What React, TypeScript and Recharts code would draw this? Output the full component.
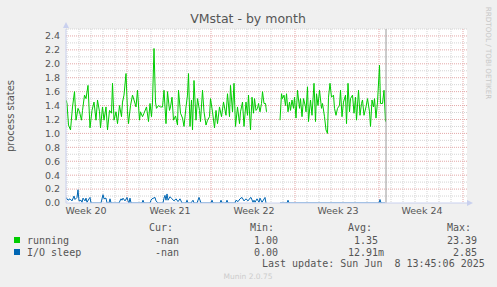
import { LineChart, Line, XAxis, YAxis, CartesianGrid, ReferenceLine } from 'recharts';

// hours since the left edge of the graph (2 h per pixel), value
const runningBeforeGap: [number, number][] = [
  [0, 1.48], [2, 1.43], [5, 1.12], [9, 1.05], [13, 1.38], [17, 1.6], [20, 1.19], [24, 1.36],
  [27, 1.31], [31, 1.19], [33, 1.33], [37, 1.55], [40, 1.5], [44, 1.69], [48, 1.08], [52, 1.33],
  [56, 1.45], [60, 1.19], [63, 1.48], [67, 1.31], [69, 1.08], [73, 1.38], [76, 1.19], [80, 1.38],
  [83, 1.05], [87, 1.33], [91, 1.29], [93, 1.72], [96, 1.19], [100, 1.31], [103, 1.14], [107, 1.4],
  [111, 1.24], [113, 1.45], [116, 1.55], [120, 1.86], [123, 1.31], [125, 1.14], [129, 1.4], [133, 1.55],
  [136, 1.48], [140, 1.38], [143, 1.62], [147, 1.19], [149, 1.31], [153, 1.24], [156, 1.29], [161, 1.38],
  [165, 1.17], [168, 1.43], [171, 1.24], [173, 1.45], [176, 2.22], [179, 1.45], [181, 1.36], [185, 1.4],
  [189, 1.38], [193, 1.38], [196, 1.62], [200, 1.14], [203, 1.6], [207, 1.33], [209, 1.38], [212, 1.52],
  [215, 1.19], [219, 1.25], [223, 1.12], [225, 1.62], [229, 1.29], [233, 1.22], [236, 1.1], [240, 1.38],
  [243, 1.55], [245, 1.86], [248, 1.1], [251, 1.48], [253, 1.05], [256, 1.76], [260, 1.19], [263, 1.5],
  [267, 1.33], [269, 1.17], [273, 1.62], [276, 1.31], [280, 1.12], [283, 1.19], [287, 1.24], [289, 1.5],
  [293, 1.31], [297, 1.08], [300, 1.33], [303, 1.14], [307, 1.38], [311, 1.24], [315, 1.45], [320, 1.26],
  [323, 1.57], [327, 1.24], [329, 1.69], [333, 1.31], [336, 1.72], [339, 1.1], [343, 1.38], [347, 1.14],
  [349, 1.31], [353, 1.45], [356, 1.1], [360, 1.45], [363, 1.26], [365, 1.55], [369, 1.05], [372, 1.52],
  [375, 1.29], [377, 1.5], [380, 1.33], [383, 1.36], [385, 1.43], [388, 1.31], [391, 1.43], [393, 1.6],
  [396, 1.43], [399, 1.43], [401, 1.31],
];

const runningAfterGap: [number, number][] = [
  [428, 1.19], [431, 1.57], [433, 1.5], [436, 1.55], [439, 1.4], [441, 1.57], [444, 1.31], [447, 1.45],
  [449, 1.33], [452, 1.48], [455, 1.36], [457, 1.52], [460, 1.22], [463, 1.62], [467, 1.36], [469, 1.5],
  [472, 1.24], [475, 1.5], [479, 1.38], [480, 1.31], [483, 1.67], [485, 1.17], [489, 1.48], [492, 1.26],
  [496, 1.72], [499, 1.17], [501, 1.57], [504, 1.4], [507, 1.62], [511, 1.36], [513, 1.43], [517, 1.24],
  [520, 1.05], [523, 1.0], [525, 1.52], [528, 1.72], [531, 1.52], [535, 1.55], [537, 1.36], [540, 1.26],
  [543, 1.36], [547, 1.4], [549, 1.62], [552, 1.24], [555, 1.45], [559, 1.55], [561, 1.14], [564, 1.72],
  [567, 1.31], [569, 1.5], [573, 1.55], [576, 1.29], [579, 1.52], [581, 1.19], [585, 1.62], [588, 1.26],
  [591, 1.43], [593, 1.48], [596, 1.26], [600, 1.38], [603, 1.5], [607, 1.31], [609, 1.1], [612, 1.48],
  [615, 1.38], [617, 1.5], [620, 1.22], [623, 1.45], [627, 1.98], [629, 1.43], [633, 1.43], [636, 1.62],
  [639, 1.17],
];

const ioSleepBeforeGap: [number, number][] = [
  [0, 0.08], [4, 0.04], [8, 0.06], [12, 0.03], [16, 0.1], [18, 0.05], [22, 0.08], [24, 0.19],
  [26, 0.03], [30, 0.04], [32, 0.01], [34, 0.07], [38, 0.03], [40, 0.07], [42, 0.01], [46, 0.06],
  [48, 0.08], [50, 0], [70, 0], [74, 0.12], [76, 0.06], [80, 0.07], [82, 0], [86, 0], [88, 0.06],
  [90, 0], [106, 0], [110, 0.06], [112, 0.04], [114, 0.07], [118, 0.03], [122, 0.08], [124, 0.03],
  [126, 0], [128, 0.07], [130, 0], [152, 0], [154, 0.04], [156, 0], [168, 0], [170, 0.04], [172, 0.06],
  [178, 0.08], [180, 0.03], [184, 0], [194, 0], [196, 0.07], [198, 0.11], [200, 0.04], [202, 0.13],
  [204, 0.04], [208, 0.09], [212, 0.06], [216, 0.03], [220, 0.06], [224, 0.02], [228, 0.06], [232, 0],
  [240, 0], [242, 0.04], [244, 0], [250, 0], [254, 0.04], [256, 0], [262, 0], [266, 0.08], [270, 0],
  [290, 0], [292, 0.04], [294, 0], [308, 0], [310, 0.04], [312, 0], [320, 0], [322, 0.04], [324, 0],
  [338, 0], [340, 0.04], [344, 0.02], [348, 0.06], [352, 0.08], [356, 0.03], [360, 0.06], [364, 0.03],
  [368, 0.07], [370, 0.08], [374, 0.01], [376, 0.04], [378, 0.01], [382, 0.06], [386, 0.01], [388, 0.07],
  [392, 0.01], [398, 0.08], [400, 0],
];

const ioSleepAfterGap: [number, number][] = [
  [428, 0], [442, 0], [444, 0.04], [446, 0], [626, 0], [628, 0.05], [630, 0], [638, 0],
];

const gapHour = 414;
const lastUpdateHour = 640;

const yMajor = [0, 0.2, 0.4, 0.6, 0.8, 1.0, 1.2, 1.4, 1.6, 1.8, 2.0, 2.2, 2.4];
const yMinor = [0.1, 0.3, 0.5, 0.7, 0.9, 1.1, 1.3, 1.5, 1.7, 1.9, 2.1, 2.3, 2.5];
const weekLabels = ['Week 20', 'Week 21', 'Week 22', 'Week 23', 'Week 24'];
const weekLabelHours = [40, 208, 376, 544, 712];
const weekLineHours = [122, 290, 458, 626, 794];
const dayLineHours = Array.from({ length: 34 }, (_, i) => 2 + i * 24).filter(
  (h) => !weekLineHours.includes(h),
);

const legendRows = [
  { name: 'running', color: '#00CC00', cur: '-nan', min: '1.00', avg: '1.35', max: '23.39' },
  { name: 'I/O sleep', color: '#0066B3', cur: '-nan', min: '0.00', avg: '12.91m', max: '2.85' },
];

const toPoints = (before: [number, number][], after: [number, number][]) => [
  ...before.map(([h, v]) => ({ h, v })),
  { h: gapHour, v: null },
  ...after.map(([h, v]) => ({ h, v })),
];

const runningData = toPoints(runningBeforeGap, runningAfterGap);
const ioSleepData = toPoints(ioSleepBeforeGap, ioSleepAfterGap);

const TEXT = '#555';
const AXIS = '#c9d0ee';
const MONO = '"DejaVu Sans Mono", monospace';

export default function App() {
  return (
    <div
      style={{
        position: 'absolute',
        left: 0,
        top: 0,
        width: 497,
        height: 287,
        background: '#f0f0f0',
        fontFamily: '"DejaVu Sans", sans-serif',
      }}
    >
      <LineChart width={497} height={287} margin={{ top: 29, right: 30, bottom: 64, left: 6 }}>
        <CartesianGrid
          fill="#ffffff"
          stroke="#d4d4d4"
          strokeDasharray="1 1"
          horizontalValues={yMinor}
          verticalValues={dayLineHours}
        />
        <CartesianGrid
          stroke="#e4a8a8"
          strokeDasharray="1 1"
          horizontalValues={yMajor.slice(1)}
          verticalValues={weekLineHours}
        />
        <XAxis
          type="number"
          dataKey="h"
          domain={[0, 802]}
          ticks={weekLabelHours}
          interval={0}
          tickFormatter={(v: number) => weekLabels[weekLabelHours.indexOf(v)] ?? ''}
          tick={{ fontSize: 9.5, fill: TEXT }}
          tickLine={false}
          tickSize={2}
          tickMargin={2}
          axisLine={{ stroke: AXIS }}
          height={20}
          allowDataOverflow
        />
        <YAxis
          type="number"
          domain={[0, 2.5]}
          ticks={yMajor}
          interval={0}
          tickFormatter={(v: number) => v.toFixed(1)}
          tick={{ fontSize: 9.5, fill: TEXT }}
          tickLine={false}
          tickSize={4}
          tickMargin={2}
          axisLine={{ stroke: AXIS }}
          width={60}
          allowDataOverflow
        />
        <Line
          data={runningData}
          dataKey="v"
          type="linear"
          stroke="#00CC00"
          strokeWidth={1}
          dot={false}
          activeDot={false}
          connectNulls={false}
          isAnimationActive={false}
        />
        <Line
          data={ioSleepData}
          dataKey="v"
          type="linear"
          stroke="#0066B3"
          strokeWidth={1}
          dot={false}
          activeDot={false}
          connectNulls={false}
          isAnimationActive={false}
        />
        <ReferenceLine x={lastUpdateHour} stroke="#999999" strokeWidth={1} />
      </LineChart>

      <svg
        width={497}
        height={287}
        style={{ position: 'absolute', left: 0, top: 0, pointerEvents: 'none' }}
      >
        {/* axis arrows */}
        <polygon points="63,28 69,28 66,22" fill={AXIS} />
        <polygon points="467,200 467,206 473,203" fill={AXIS} />

        <text x={248} y={23} textAnchor="middle" fontSize={12.5} fill={TEXT}>
          VMstat - by month
        </text>
        <text
          x={0}
          y={0}
          transform="translate(14,116) rotate(-90)"
          textAnchor="middle"
          fontSize={10}
          fill={TEXT}
        >
          process states
        </text>
        <text
          x={0}
          y={0}
          transform="translate(486,53) rotate(90)"
          textAnchor="middle"
          fontSize={7.2}
          fill="#c8c8c8"
        >
          RRDTOOL / TOBI OETIKER
        </text>

        <g fontFamily={MONO} fontSize={10} fill={TEXT}>
          <text x={149} y={231}>Cur:</text>
          <text x={250} y={231}>Min:</text>
          <text x={348} y={231}>Avg:</text>
          <text x={447} y={231}>Max:</text>
          {legendRows.map((row, i) => {
            const y = 244 + i * 12;
            return (
              <g key={row.name}>
                <rect x={14} y={y - 7} width={6} height={6} fill={row.color} />
                <text x={27} y={y}>{row.name}</text>
                <text x={179} y={y} textAnchor="end">{row.cur}</text>
                <text x={278} y={y} textAnchor="end">{row.min}</text>
                <text x={378} y={y} textAnchor={row.avg.endsWith('m') ? 'start' : 'end'} dx={row.avg.endsWith('m') ? -30 : 0}>
                  {row.avg}
                </text>
                <text x={477} y={y} textAnchor="end">{row.max}</text>
              </g>
            );
          })}
          <text x={262} y={267} style={{ whiteSpace: 'pre' }} xmlSpace="preserve">
            Last update: Sun Jun  8 13:45:06 2025
          </text>
        </g>
        <text x={248} y={279} textAnchor="middle" fontSize={7.5} fill="#cccccc">
          Munin 2.0.75
        </text>
      </svg>
    </div>
  );
}
